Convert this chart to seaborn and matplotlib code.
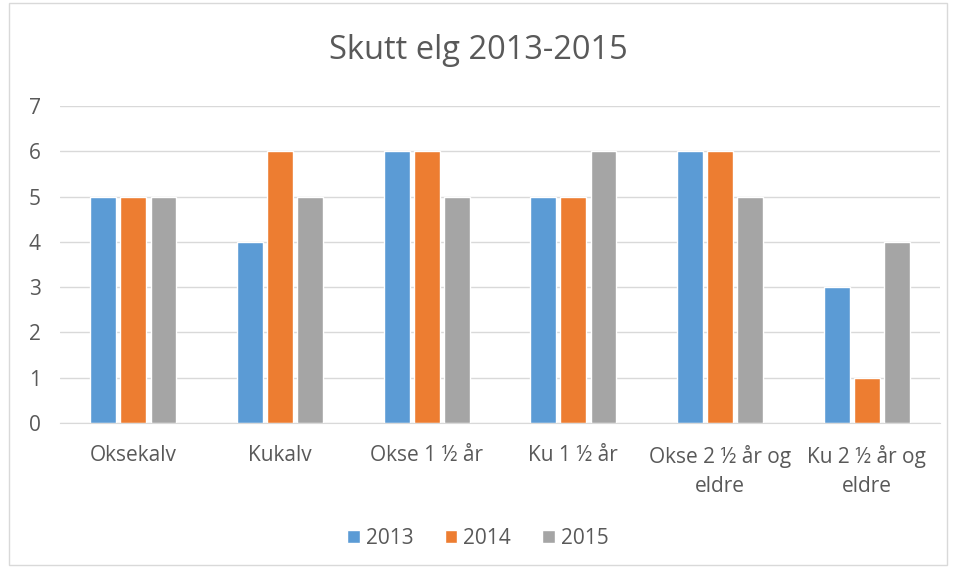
import pandas as pd
import matplotlib.pyplot as plt
import seaborn as sns
from matplotlib.patches import Rectangle

# Data
categories = ['Oksekalv', 'Kukalv', 'Okse 1 ½ år', 'Ku 1 ½ år',
              'Okse 2 ½ år og\neldre', 'Ku 2 ½ år og\neldre']
years = ['2013', '2014', '2015']
v2013 = [5, 4, 6, 5, 6, 3]
v2014 = [5, 6, 6, 5, 6, 1]
v2015 = [5, 5, 5, 6, 5, 4]

rows = []
for y, vals in zip(years, [v2013, v2014, v2015]):
    for c, v in zip(categories, vals):
        rows.append({'kategori': c, 'år': y, 'antall': v})
data = pd.DataFrame(rows)

sns.set_style('white')
plt.rcParams['font.family'] = ['Open Sans', 'DejaVu Sans']
text_color = '#595959'

fig = plt.figure(figsize=(9.56, 5.68), dpi=100)
ax = fig.add_axes([0.0628, 0.2553, 0.9205, 0.5581])
ax.set_axisbelow(True)

sns.barplot(data=data, x='kategori', y='antall', hue='år', ax=ax,
            palette=['#5B9BD5', '#ED7D31', '#A5A5A5'],
            width=0.615, gap=0.14, saturation=1)

ax.set_ylim(0, 7)
ax.set_yticks(range(0, 8))
ax.yaxis.grid(True, color='#D9D9D9', linewidth=1)
for s in ['top', 'right', 'left']:
    ax.spines[s].set_visible(False)
ax.spines['bottom'].set_color('#D9D9D9')
ax.tick_params(axis='both', length=0, labelsize=15, colors=text_color)
ax.tick_params(axis='y', pad=14)
ax.tick_params(axis='x', pad=16)
for lbl in ax.get_xticklabels():
    lbl.set_linespacing(1.5)
ax.set_xlabel('')
ax.set_ylabel('')
ax.set_xlim(-0.5, 5.5)

fig.suptitle('Skutt elg 2013-2015', fontsize=23.5, color=text_color, y=0.94)

handles, labels = ax.get_legend_handles_labels()
ax.legend(handles=handles, labels=labels, loc='center',
          bbox_to_anchor=(0.5, 0.052), bbox_transform=fig.transFigure,
          ncol=3, frameon=False, fontsize=15, labelcolor=text_color,
          handlelength=0.6, handleheight=0.6, columnspacing=1.5, handletextpad=0.3)

# chart border
fig.patches.append(Rectangle((0.009, 0.006), 0.982, 0.988, transform=fig.transFigure,
                             fill=False, edgecolor='#D9D9D9', linewidth=1))

fig.savefig('out.png', dpi=100)
